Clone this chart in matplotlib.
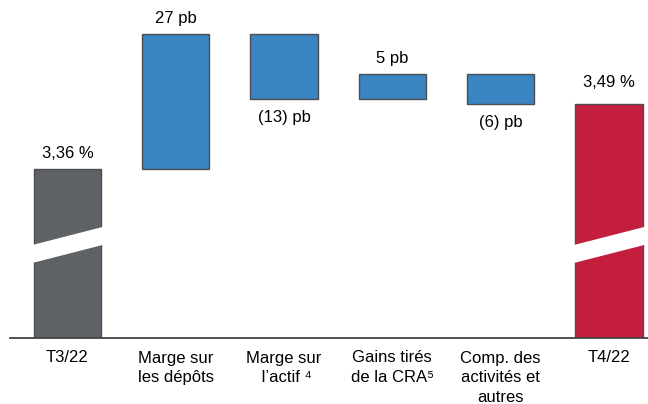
import matplotlib.pyplot as plt
from matplotlib.patches import Polygon

plt.rcParams['font.family'] = ['Liberation Sans', 'DejaVu Sans']

# data (marge en points de base)
categories = ["T3/22", "Marge sur\nles dépôts", "Marge sur\n l’actif \u2074",
              "Gains tirés\nde la CRA\u2075", "Comp. des\nactivités et\nautres", "T4/22"]
start_value = 336   # 3,36 %
end_value = 349     # 3,49 %
changes = [27, -13, 5, -6]
value_labels = ["3,36 %", "27 pb", "(13) pb", "5 pb", "(6) pb", "3,49 %"]

floor = 302.2  # visible bottom of the broken axis
gray = "#5e6266"
blue = "#3a85c1"
red = "#c41e3f"
edge = "#4d4d4d"
w = 0.62
fs = 12

fig = plt.figure(figsize=(6.48, 4.04), dpi=100)
ax = fig.add_axes([10 / 648, 66 / 404, 638 / 648, 338 / 404])

# first and last bars (broken)
ax.bar(0, start_value - floor, bottom=floor, width=w, color=gray, edgecolor=edge, linewidth=1)
ax.bar(5, end_value - floor, bottom=floor, width=w, color=red, edgecolor=edge, linewidth=1)

# floating bars
level = start_value
for i, c in enumerate(changes):
    x = i + 1
    lo, hi = min(level, level + c), max(level, level + c)
    ax.bar(x, hi - lo, bottom=lo, width=w, color=blue, edgecolor=edge, linewidth=1)
    if c > 0:
        ax.text(x, hi + 2.2, value_labels[x], ha="center", va="baseline", fontsize=fs)
    else:
        ax.text(x, lo - 2.2, value_labels[x], ha="center", va="top", fontsize=fs)
    level += c

ax.text(0, start_value + 2.2, value_labels[0], ha="center", va="baseline", fontsize=fs)
ax.text(5, end_value + 3.4, value_labels[5], ha="center", va="baseline", fontsize=fs)

# axis break bands
for x in (0, 5):
    xl, xr = x - w / 2 - 0.05, x + w / 2 + 0.05
    band = Polygon([(xl, 317.0), (xr, 321.0), (xr, 324.6), (xl, 320.6)],
                   closed=True, facecolor="white", edgecolor="none", zorder=3)
    ax.add_patch(band)

ax.set_xlim(-0.53, 5.36)
ax.set_ylim(floor, 369.8)
ax.set_xticks(range(len(categories)))
ax.set_xticklabels(categories, fontsize=fs, linespacing=1.38, va="top")
ax.tick_params(axis="x", length=0, pad=9)
ax.set_yticks([])
for s in ("left", "right", "top"):
    ax.spines[s].set_visible(False)
ax.spines["bottom"].set_color("#444444")
ax.spines["bottom"].set_linewidth(1.3)

fig.savefig("out.png", dpi=100)
